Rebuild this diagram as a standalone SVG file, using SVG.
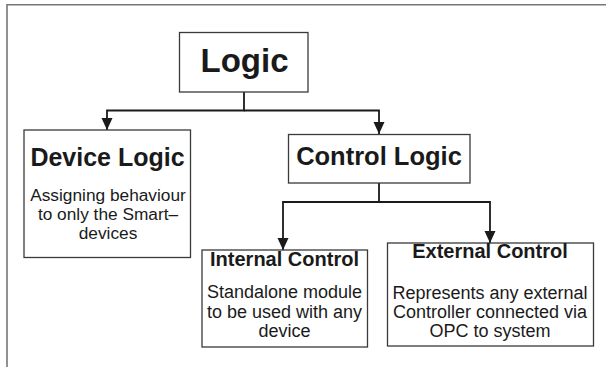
<svg xmlns="http://www.w3.org/2000/svg" width="606" height="367" viewBox="0 0 606 367">
<style>
.box{fill:#fff;stroke:#3a3a3a;stroke-width:1.3}
.conn{fill:none;stroke:#1a1a1a;stroke-width:1.8}
.frame{fill:none;stroke:#777;stroke-width:1.6}
text{font-family:"Liberation Sans",Arial,sans-serif;fill:#1a1a1a;text-anchor:middle}
.t1{font-weight:bold;font-size:33px}
.t2{font-weight:bold;font-size:25.5px}
.t3{font-weight:bold;font-size:20px}
.b{font-size:17.3px}
.b2{font-size:18px}
</style>
<defs>
<marker id="arr" markerUnits="userSpaceOnUse" markerWidth="12" markerHeight="13" viewBox="0 0 12 13" refX="12" refY="6.5" orient="auto">
<path d="M0,1 L12,6.5 L0,12 Z" fill="#1a1a1a"/>
</marker>
</defs>
<rect width="606" height="367" fill="#fff"/>
<path class="frame" d="M7,367 V4.8 H606"/>
<g id="connectors">
<path class="conn" d="M244,92 V110.5 H107 V130" marker-end="url(#arr)"/>
<path class="conn" d="M244,110.5 H379 V134" marker-end="url(#arr)"/>
<path class="conn" d="M379,183 V202 H283 V250" marker-end="url(#arr)"/>
<path class="conn" d="M379,202 H490 V243" marker-end="url(#arr)"/>
</g>
<g id="logic">
<rect class="box" x="179.5" y="32.5" width="128.5" height="59.5"/>
<text class="t1" x="244.5" y="72">Logic</text>
</g>
<g id="device-logic">
<rect class="box" x="24" y="130" width="166.5" height="127.5"/>
<text class="t2" x="107.5" y="166" style="font-size:25px">Device Logic</text>
<text class="b" x="108" y="201">Assigning behaviour</text>
<text class="b" x="108" y="220">to only the Smart–</text>
<text class="b" x="108" y="239">devices</text>
</g>
<g id="control-logic">
<rect class="box" x="288.5" y="134.5" width="181.5" height="48.5"/>
<text class="t2" x="379" y="165">Control Logic</text>
</g>
<g id="internal-control">
<rect class="box" x="202" y="250" width="165.5" height="97"/>
<text class="t3" x="284.5" y="266">Internal Control</text>
<text class="b2" x="284.5" y="298">Standalone module</text>
<text class="b2" x="284.5" y="317.5">to be used with any</text>
<text class="b2" x="284.5" y="336.5">device</text>
</g>
<g id="external-control">
<rect class="box" x="387.5" y="243" width="206" height="103"/>
<text class="t3" x="490" y="257.5">External Control</text>
<text class="b2" x="490" y="299">Represents any external</text>
<text class="b2" x="490" y="318">Controller connected via</text>
<text class="b2" x="490" y="337">OPC to system</text>
</g>
</svg>
